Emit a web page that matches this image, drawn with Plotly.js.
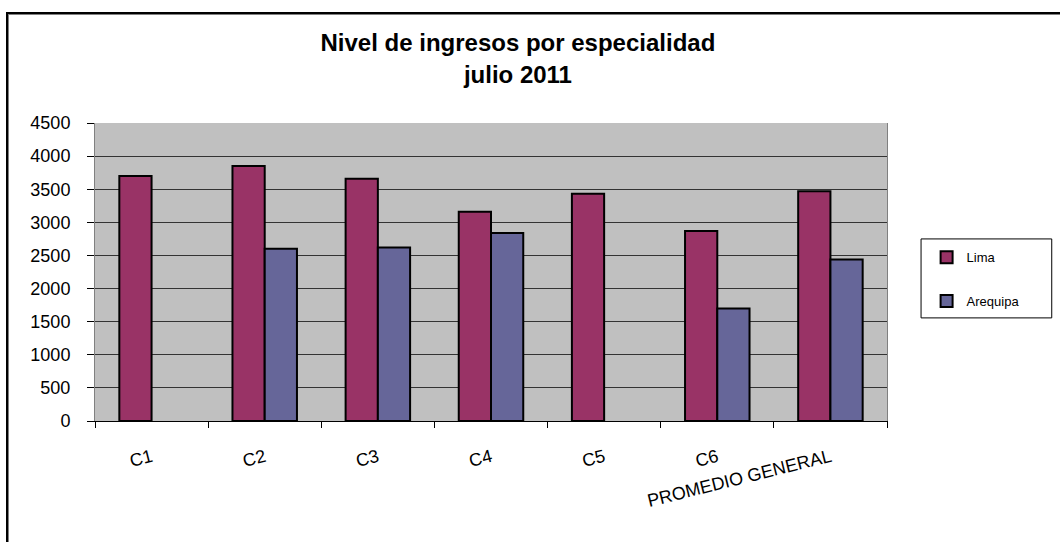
<!DOCTYPE html>
<html>
<head>
<meta charset="utf-8">
<script src="https://cdn.plot.ly/plotly-3.0.1.min.js"></script>
<style>
  html, body { margin: 0; padding: 0; background: #fff; }
  #wrap { position: relative; width: 1060px; height: 542px; overflow: hidden; }
  #chart { width: 1060px; height: 542px; }
  #frame { position: absolute; left: 6px; top: 12px; width: 1200px; height: 700px;
           border-left: 2px solid #000; border-top: 2px solid #000; pointer-events: none; }
  #frame2 { position: absolute; left: 8px; top: 14px; width: 1200px; height: 700px;
           border-left: 1px solid #808080; border-top: 1px solid #808080; pointer-events: none; }
</style>
</head>
<body>
<div id="wrap">
  <div id="chart"></div>
  <div id="frame"></div>
  <div id="frame2"></div>
</div>
<script>
const categories = ["C1", "C2", "C3", "C4", "C5", "C6", "PROMEDIO GENERAL"];
const lima = [3700, 3850, 3660, 3160, 3430, 2870, 3470];
const arequipa = [null, 2600, 2620, 2840, null, 1700, 2440];
const yTicks = [0, 500, 1000, 1500, 2000, 2500, 3000, 3500, 4000, 4500];

const traces = [
  { type: "bar", name: "Lima", x: categories, y: lima, legendgroup: "a",
    marker: { color: "#993366", line: { color: "#000", width: 2 } } },
  { type: "bar", name: "Arequipa", x: categories, y: arequipa, legendgroup: "b",
    marker: { color: "#666699", line: { color: "#000", width: 2 } } }
];

const layout = {
  width: 1060, height: 542,
  margin: { l: 95, r: 173, t: 123, b: 121, pad: 0 },
  paper_bgcolor: "#ffffff",
  plot_bgcolor: "#c0c0c0",
  font: { family: "Liberation Sans, Arial, sans-serif", color: "#000", size: 16 },
  title: {
    text: "<b>Nivel de ingresos por especialidad<br>julio 2011</b>",
    font: { size: 24, family: "Liberation Sans, Arial, sans-serif", color: "#000" },
    xref: "paper", x: 0.534, xanchor: "center",
    yref: "container", y: 0.905, yanchor: "top"
  },
  barmode: "group",
  bargap: 0.43,
  bargroupgap: 0,
  showlegend: true,
  legend: {
    x: 1.05, xanchor: "left", y: 0.60, yanchor: "top",
    borderwidth: 0, bgcolor: "rgba(0,0,0,0)",
    font: { size: 13 }, tracegroupgap: 24,
    itemwidth: 30
  },
  shapes: [
    { type: "rect", xref: "paper", yref: "paper",
      x0: 1.043, x1: 1.208, y0: 0.346, y1: 0.611,
      line: { color: "#000", width: 1 }, fillcolor: "rgba(0,0,0,0)", layer: "below" }
  ],
  xaxis: {
    type: "category",
    tickangle: -14,
    ticks: "outside", ticklen: 6, tickcolor: "#000", tickson: "boundaries",
    showline: true, linecolor: "#000", linewidth: 1,
    showgrid: false,
    ticklabelstandoff: 18,
    tickfont: { size: 18 }
  },
  yaxis: {
    range: [0, 4500],
    tickvals: yTicks,
    ticktext: yTicks.map(String),
    ticks: "outside", ticklen: 7, tickcolor: "#000",
    showline: true, linecolor: "#808080", linewidth: 1, mirror: true,
    showgrid: true, gridcolor: "#333333", gridwidth: 1,
    zeroline: false,
    ticklabelstandoff: 13,
    tickfont: { size: 18 }
  }
};

Plotly.newPlot("chart", traces, layout, { displayModeBar: false, staticPlot: true });
</script>
</body>
</html>
